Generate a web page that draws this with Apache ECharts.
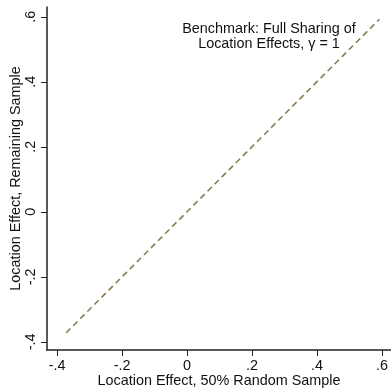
<!DOCTYPE html>
<html>
<head>
<meta charset="utf-8">
<script src="https://cdn.jsdelivr.net/npm/echarts@6/dist/echarts.min.js"></script>
<style>
  html, body { margin: 0; padding: 0; background: #fff; }
  #chart { width: 391px; height: 389px; }
</style>
</head>
<body>
<div id="chart"></div>
<script>
// 45-degree benchmark line end points
var lineX = [-0.372, 0.592];
var lineY = [-0.372, 0.592];
// tick values
var xTicks = [-0.4, -0.2, 0, 0.2, 0.4, 0.6];
var yTicks = [-0.4, -0.2, 0, 0.2, 0.4, 0.6];

var font = 'Liberation Sans, Arial, Helvetica, sans-serif';

function fmt(v) {
    // stata style: drop leading zero
    var s = (Math.round(v * 10) / 10).toString();
    return s.replace('0.', '.');
}

var chart = echarts.init(document.getElementById('chart'));

var pts = [];
for (var i = 0; i < lineX.length; i++) {
    pts.push([lineX[i], lineY[i]]);
}

var option = {
    animation: false,
    backgroundColor: '#fff',
    title: {
        text: 'Benchmark: Full Sharing of\nLocation Effects, γ = 1',
        left: 264,
        top: 17,
        textAlign: 'center',
        textStyle: {
            fontFamily: font,
            fontSize: 14.4,
            fontWeight: 'normal',
            color: '#111',
            lineHeight: 15
        }
    },
    grid: {
        left: 47,
        right: 0,
        top: 7,
        bottom: 39,
        outerBoundsMode: 'none',
        containLabel: false
    },
    xAxis: {
        type: 'value',
        min: -0.431,
        max: 0.628,
        name: 'Location Effect, 50% Random Sample',
        nameLocation: 'middle',
        nameGap: 24,
        nameMoveOverlap: false,
        nameTextStyle: { fontFamily: font, fontSize: 14.4, color: '#111' },
        splitLine: { show: false },
        axisLine: { show: true, onZero: false, lineStyle: { color: '#222', width: 1.5 } },
        axisTick: {
            show: true,
            length: 6,
            customValues: xTicks,
            lineStyle: { color: '#222', width: 1 }
        },
        axisLabel: {
            customValues: xTicks,
            margin: 9,
            fontFamily: font,
            fontSize: 14.4,
            color: '#111',
            formatter: fmt
        }
    },
    yAxis: {
        type: 'value',
        min: -0.425,
        max: 0.63,
        name: 'Location Effect, Remaining Sample',
        nameLocation: 'middle',
        nameGap: 24,
        nameMoveOverlap: false,
        nameTextStyle: { fontFamily: font, fontSize: 14.4, color: '#111' },
        splitLine: { show: false },
        axisLine: { show: true, onZero: false, lineStyle: { color: '#222', width: 1.5 } },
        axisTick: {
            show: true,
            length: 6,
            customValues: yTicks,
            lineStyle: { color: '#222', width: 1 }
        },
        axisLabel: {
            customValues: yTicks,
            rotate: 90,
            margin: 9,
            fontFamily: font,
            fontSize: 14.4,
            color: '#111',
            formatter: fmt
        }
    },
    series: [{
        type: 'line',
        data: pts,
        symbol: 'none',
        lineStyle: {
            color: '#8b7a55',
            width: 1.6,
            type: [6, 4]
        }
    }]
};

chart.setOption(option);
</script>
</body>
</html>
